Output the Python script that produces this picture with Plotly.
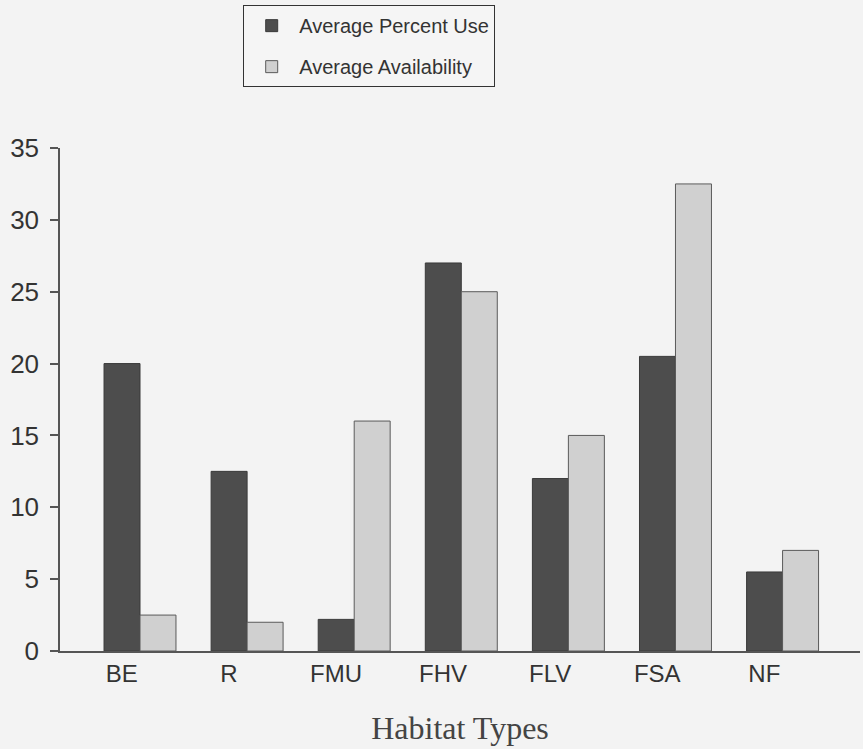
import plotly.graph_objects as go

categories = ["BE", "R", "FMU", "FHV", "FLV", "FSA", "NF"]
percent_use = [20, 12.5, 2.2, 27, 12, 20.5, 5.5]
availability = [2.5, 2.0, 16, 25, 15, 32.5, 7]
y_ticks = [0, 5, 10, 15, 20, 25, 30, 35]

positions = list(range(len(categories)))
BAR_W = 0.336
LABEL_SHIFT = -0.17

fig = go.Figure()
fig.add_trace(go.Bar(
    x=positions, y=percent_use, name="Average Percent Use",
    width=BAR_W, offset=-BAR_W,
    marker=dict(color="#4d4d4d", line=dict(color="#3a3a3a", width=1)),
    legendgroup="a",
))
fig.add_trace(go.Bar(
    x=positions, y=availability, name="Average Availability",
    width=BAR_W, offset=0,
    marker=dict(color="#d0d0d0", line=dict(color="#5a5a5a", width=1)),
    legendgroup="b",
))

fig.update_layout(
    width=863, height=749,
    margin=dict(l=60, r=3, t=148, b=98, autoexpand=False),
    paper_bgcolor="#f3f3f3", plot_bgcolor="#f3f3f3",
    barmode="overlay",
    font=dict(family="Liberation Sans, Arial, sans-serif", color="#333333"),
    showlegend=True,
    legend=dict(
        x=0.229, y=1.284, xanchor="left", yanchor="top",
        bgcolor="#f5f5f5", bordercolor="#333333", borderwidth=1,
        font=dict(size=20, color="#333333"),
        traceorder="grouped", tracegroupgap=12,
        itemwidth=45,
    ),
    xaxis=dict(
        range=[-0.747, 6.723],
        tickvals=[p + LABEL_SHIFT for p in positions],
        ticktext=categories,
        ticks="", showgrid=False, zeroline=False,
        showline=True, linecolor="#555555", linewidth=1.5,
        tickfont=dict(size=24, color="#333333"),
        ticklabelstandoff=0,
        title=dict(text="Habitat Types", standoff=31,
                   font=dict(family="Liberation Serif, Times New Roman, serif", size=32, color="#444444")),
        fixedrange=True,
    ),
    yaxis=dict(
        range=[0, 35], tickvals=y_ticks,
        ticks="outside", ticklen=8, tickcolor="#555555", tickwidth=1.5,
        showgrid=False, zeroline=False,
        showline=True, linecolor="#555555", linewidth=1.5,
        tickfont=dict(size=26, color="#333333"),
        ticklabelstandoff=6,
        fixedrange=True,
    ),
)

fig.write_html("out.html", config={"displayModeBar": False},
               post_script="document.body.style.margin='0';")
